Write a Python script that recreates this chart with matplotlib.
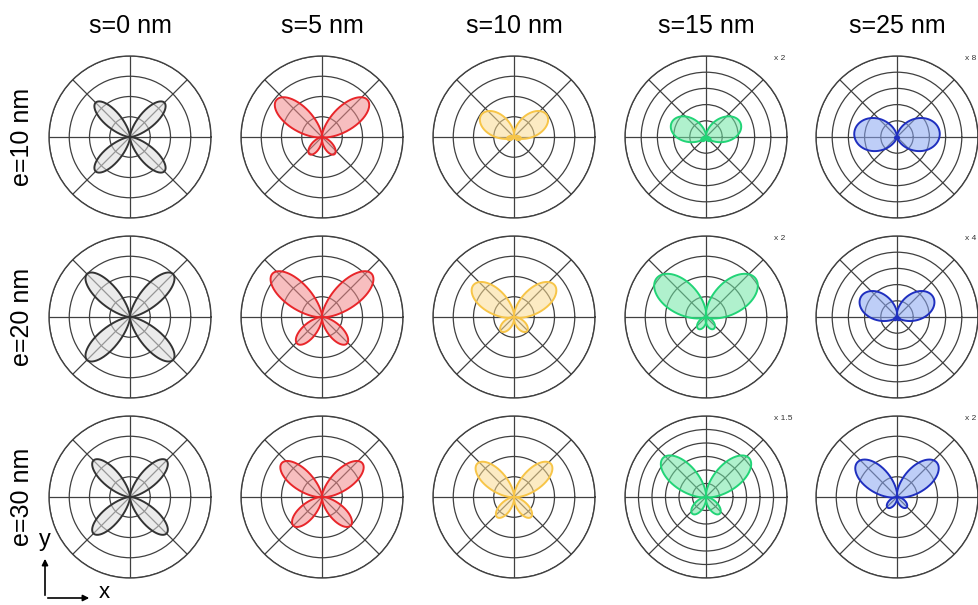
import numpy as np
import matplotlib
matplotlib.use("Agg")
import matplotlib.pyplot as plt

# ---------------- data ----------------
col_titles = ["s=0 nm", "s=5 nm", "s=10 nm", "s=15 nm", "s=25 nm"]
row_titles = ["e=10 nm", "e=20 nm", "e=30 nm"]

# number of radial rings in each panel
rings = [[4, 4, 4, 5, 5],
         [4, 4, 4, 4, 5],
         [4, 4, 4, 6, 4]]
# upper lobe length (ring units) and angle above horizontal (deg)
upper_len = [[2.4, 2.9, 1.95, 2.3, 2.65],
             [3.0, 3.25, 2.55, 3.1, 2.55],
             [2.55, 2.6, 2.45, 4.3, 2.6]]
upper_ang = [[45, 39, 34, 22, 6],
             [45, 41, 38, 38, 29],
             [45, 40, 42, 42, 41]]
# lower lobe length and angle below horizontal (deg)
lower_len = [[2.4, 1.05, 0.35, 0.35, 0.15],
             [3.0, 1.8, 0.95, 0.7, 0.25],
             [2.55, 2.0, 1.3, 1.6, 0.7]]
lower_ang = [[45, 54, 15, 40, 30],
             [45, 47, 48, 57, 50],
             [45, 45, 50, 51, 48]]
# lobe narrowness exponent
lobe_k = [[12, 8, 4, 3, 2],
          [12, 9, 6, 5, 3],
          [12, 9, 8, 7, 6]]
multipliers = [["", "", "", "x 2", "x 8"],
               ["", "", "", "x 2", "x 4"],
               ["", "", "", "x 1.5", "x 2"]]

edge_colors = ["#333333", "#e8262a", "#f7c548", "#22d477", "#1f2fbf"]
fill_colors = ["#dcdcdc", "#f28a8b", "#fbdc92", "#6fe6a4", "#8aa6f2"]

# ---------------- layout ----------------
W, H = 979, 605
col_cx = [130, 322, 514, 706, 897]
row_cy = [137, 317, 497]
R = 81

fig = plt.figure(figsize=(W / 100, H / 100), dpi=100)
fig.patch.set_facecolor("white")
FONT = "Liberation Sans"
grid_col = "#404040"


def lobe(ax, length, ang_deg, k, ec, fc):
    t0 = np.deg2rad(ang_deg)
    phi = np.linspace(-np.pi / 2, np.pi / 2, 400)
    r = length * np.cos(phi) ** k
    th = t0 + phi
    ax.fill(th, r, color=fc, alpha=0.55, lw=0, zorder=3)
    ax.plot(th, r, color=ec, lw=1.4, zorder=4)


for i in range(3):
    for j in range(5):
        cx, cy = col_cx[j], row_cy[i]
        ax = fig.add_axes([(cx - R) / W, 1 - (cy + R) / H, 2 * R / W, 2 * R / H],
                          projection="polar")
        n = rings[i][j]
        ax.set_ylim(0, n)
        ax.set_yticks(np.arange(1, n + 1))
        ax.set_yticklabels([])
        ax.set_xticks(np.deg2rad(np.arange(0, 360, 45)))
        ax.set_xticklabels([])
        ax.grid(True, color=grid_col, lw=0.9)
        ax.spines["polar"].set_color(grid_col)
        ax.spines["polar"].set_linewidth(1.0)
        ec, fc = edge_colors[j], fill_colors[j]
        k = lobe_k[i][j]
        ua, ul = upper_ang[i][j], upper_len[i][j]
        la, ll = lower_ang[i][j], lower_len[i][j]
        lobe(ax, ul, ua, k, ec, fc)
        lobe(ax, ul, 180 - ua, k, ec, fc)
        lobe(ax, ll, -la, k, ec, fc)
        lobe(ax, ll, 180 + la, k, ec, fc)
        if multipliers[i][j]:
            ax.text(0.92, 0.985, multipliers[i][j], transform=ax.transAxes,
                    fontsize=6, family=FONT, ha="left", va="center",
                    color="#333333")

for j, t in enumerate(col_titles):
    fig.text(col_cx[j] / W, 1 - 26 / H, t, ha="center", va="center",
             fontsize=18, family=FONT)
for i, t in enumerate(row_titles):
    fig.text(22 / W, 1 - row_cy[i] / H, t, ha="center", va="center",
             rotation=90, fontsize=18, family=FONT)

# coordinate arrows
ox, oy = 45, 598
fig.add_artist(matplotlib.patches.FancyArrowPatch(
    (ox / W, 1 - oy / H), (ox / W, 1 - 556 / H), transform=fig.transFigure,
    arrowstyle="-|>", mutation_scale=9, lw=1.2, color="black"))
fig.add_artist(matplotlib.patches.FancyArrowPatch(
    (ox / W, 1 - oy / H), (92 / W, 1 - oy / H), transform=fig.transFigure,
    arrowstyle="-|>", mutation_scale=9, lw=1.2, color="black"))
fig.text(45 / W, 1 - 540 / H, "y", ha="center", va="center", fontsize=17, family=FONT)
fig.text(104 / W, 1 - 593 / H, "x", ha="center", va="center", fontsize=16, family=FONT)

fig.savefig("out.png", dpi=100, facecolor="white")
